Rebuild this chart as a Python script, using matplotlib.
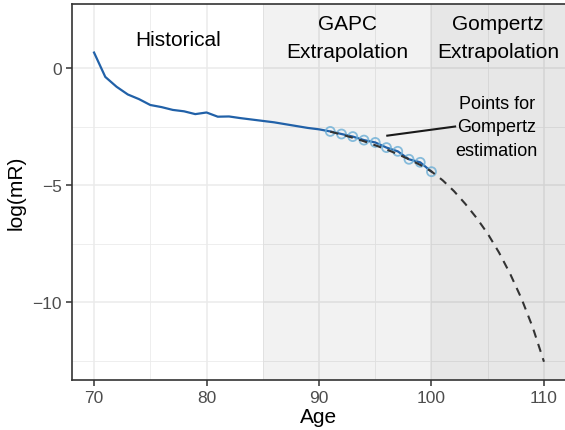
import numpy as np
import matplotlib.pyplot as plt

plt.rcParams["font.family"] = ["Liberation Sans", "DejaVu Sans"]

# historical + GAPC log mortality rates
ages = np.arange(70, 101)
log_mr = [0.66, -0.38, -0.80, -1.13, -1.33, -1.58, -1.67, -1.79, -1.85, -1.97,
          -1.90, -2.08, -2.07, -2.14, -2.20, -2.26, -2.32, -2.40, -2.48, -2.56,
          -2.62, -2.71, -2.82, -2.93, -3.08, -3.18, -3.40, -3.56, -3.90, -4.03,
          -4.43]

# points used for the Gompertz fit
fit_ages = np.arange(91, 101)
fit_vals = log_mr[21:]

# Gompertz extrapolated curve
gomp_ages = np.arange(91, 111)
gomp_vals = [-2.72, -2.84, -2.98, -3.13, -3.30, -3.48, -3.68, -3.90, -4.14, -4.42,
             -4.80, -5.26, -5.80, -6.40, -7.08, -7.88, -8.80, -9.85, -11.08, -12.55]

fig = plt.figure(figsize=(5.65, 4.31), dpi=100)
ax = fig.add_axes([72 / 565, 50 / 431, 493 / 565, 376 / 431])

ax.set_xlim(68.04, 111.87)
ax.set_ylim(-13.33, 2.735)

ax.set_xticks([70, 80, 90, 100, 110])
ax.set_xticks([75, 85, 95, 105], minor=True)
ax.set_yticks([0, -5, -10])
ax.set_yticks([-2.5, -7.5, -12.5], minor=True)
ax.set_yticklabels(["0", "\u22125", "\u221210"])
ax.grid(True, which="major", color="#ebebeb", linewidth=1.1, zorder=0)
ax.grid(True, which="minor", color="#ebebeb", linewidth=0.6, zorder=0)
ax.set_axisbelow(True)

ax.axvspan(85, 100, color="black", alpha=0.05, lw=0, zorder=1)
ax.axvspan(100, 120, color="black", alpha=0.095, lw=0, zorder=1)

ax.plot(ages, log_mr, color="#2161a8", lw=1.6, zorder=3)
ax.scatter(fit_ages, fit_vals, s=42, facecolors="none", edgecolors="#6baed6",
           linewidths=1.3, alpha=0.8, zorder=4)
ax.plot(gomp_ages, gomp_vals, color="#333333", lw=1.5, ls=(0, (4, 3.2)), zorder=5)

ax.text(77.5, 1.2, "Historical", ha="center", va="center", fontsize=15)
ax.text(92.5, 1.3, "GAPC\nExtrapolation", ha="center", va="center", fontsize=15,
        linespacing=1.6)
ax.text(105.9, 1.3, "Gompertz\nExtrapolation", ha="center", va="center", fontsize=15,
        linespacing=1.6)
ax.text(105.8, -2.5, "Points for\nGompertz\nestimation", ha="center", va="center",
        fontsize=13, linespacing=1.5)
ax.plot([96.07, 102.1], [-2.89, -2.5], color="#1a1a1a", lw=1.5, zorder=6)

for side in ["left", "bottom", "top"]:
    ax.spines[side].set_color("#333333")
    ax.spines[side].set_linewidth(1.2)
ax.spines["right"].set_visible(False)

ax.tick_params(which="major", length=4, width=1.1, color="#333333",
               labelcolor="#4d4d4d", labelsize=12.5)
ax.tick_params(which="minor", length=0)

ax.set_xlabel("Age", fontsize=15, labelpad=1)
ax.set_ylabel("log(mR)", fontsize=15, labelpad=5)

fig.savefig("out.png", dpi=100)
